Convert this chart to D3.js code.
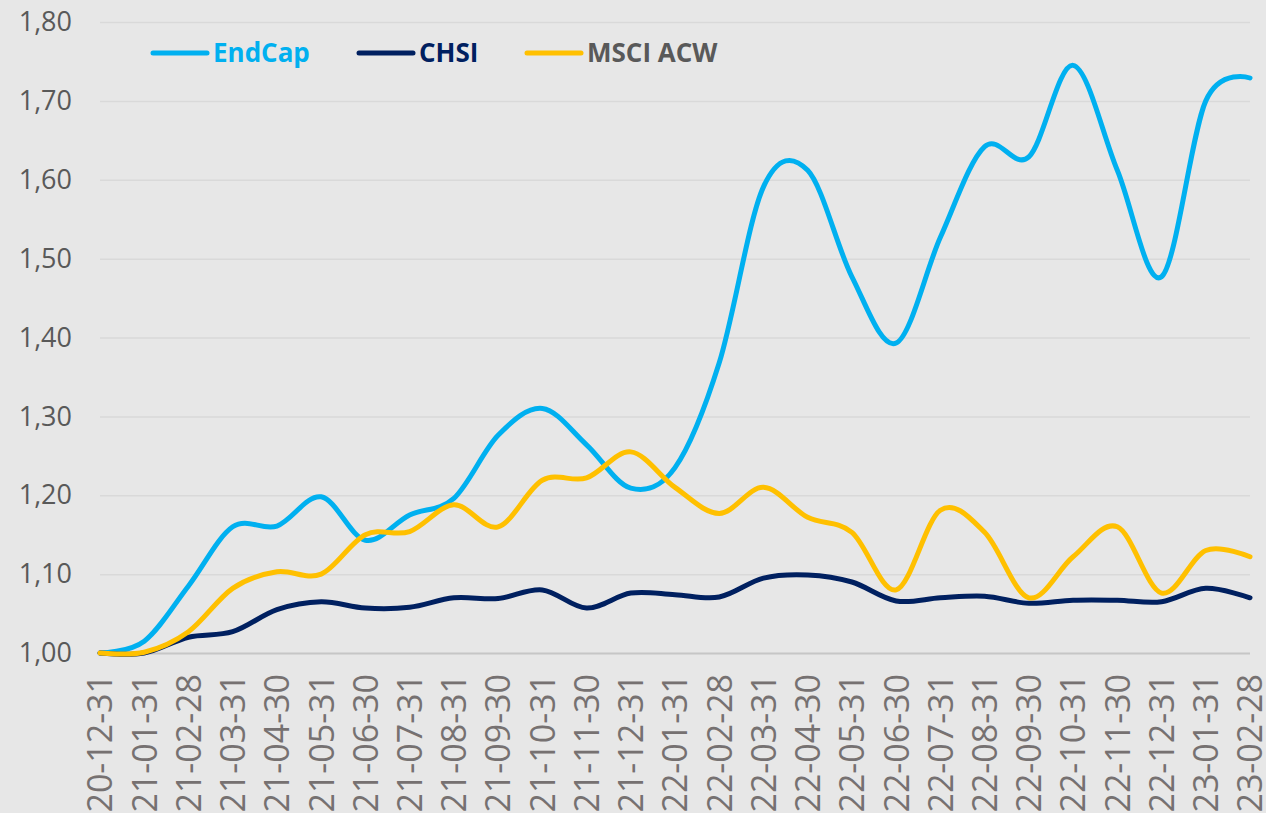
<!DOCTYPE html>
<html>
<head>
<meta charset="utf-8">
<script src="https://cdn.jsdelivr.net/npm/d3@7"></script>
<style>
  html, body { margin: 0; padding: 0; background: #e7e7e7; overflow: hidden; }
  text { font-family: "Open Sans", "Noto Sans", sans-serif; }
</style>
</head>
<body>
<div id="chart-area"></div>
<script>
const dates = [
  "20-12-31", "21-01-31", "21-02-28", "21-03-31", "21-04-30", "21-05-31",
  "21-06-30", "21-07-31", "21-08-31", "21-09-30", "21-10-31", "21-11-30",
  "21-12-31", "22-01-31", "22-02-28", "22-03-31", "22-04-30", "22-05-31",
  "22-06-30", "22-07-31", "22-08-31", "22-09-30", "22-10-31", "22-11-30",
  "22-12-31", "23-01-31", "23-02-28"
];
const endCap = [
  1.00, 1.015, 1.085, 1.16, 1.161, 1.198, 1.143, 1.175, 1.196, 1.276, 1.31, 1.264,
  1.209, 1.235, 1.368, 1.591, 1.612, 1.477, 1.393, 1.527, 1.642, 1.629, 1.745, 1.612,
  1.477, 1.70, 1.729
];
const chsi = [
  1.00, 1.00, 1.02, 1.027, 1.055, 1.065, 1.057, 1.058, 1.07, 1.069, 1.08, 1.057,
  1.076, 1.074, 1.071, 1.095, 1.099, 1.09, 1.066, 1.07, 1.072, 1.063, 1.067, 1.067,
  1.065, 1.082, 1.07
];
const msci = [
  1.00, 1.001, 1.027, 1.082, 1.103, 1.10, 1.15, 1.154, 1.188, 1.16, 1.219, 1.222,
  1.255, 1.21, 1.177, 1.21, 1.172, 1.153, 1.08, 1.181, 1.153, 1.07, 1.122, 1.16,
  1.076, 1.13, 1.122
];
const yTicks = [1.0, 1.1, 1.2, 1.3, 1.4, 1.5, 1.6, 1.7, 1.8];

const series = [
  { name: "EndCap", values: endCap, color: "#00b0f0", text: "#00b0f0" },
  { name: "CHSI", values: chsi, color: "#002060", text: "#002060" },
  { name: "MSCI ACW", values: msci, color: "#ffc000", text: "#595959" }
];

const W = 1266, H = 813;
const margin = { top: 22, right: 16, bottom: 160, left: 100 };

const svg = d3.select("#chart-area")
  .append("svg")
  .attr("width", W)
  .attr("height", H);

svg.append("rect").attr("width", W).attr("height", H).attr("fill", "#e7e7e7");

const xScale = d3.scalePoint().domain(dates).range([margin.left, W - margin.right]);
const yScale = d3.scaleLinear().domain([1.0, 1.8]).range([H - margin.bottom - 0, margin.top]);

// y gridlines + labels
const yAxis = d3.axisLeft(yScale)
  .tickValues(yTicks)
  .tickSize(-(W - margin.right - margin.left))
  .tickPadding(28)
  .tickFormat(d => d3.format(".2f")(d).replace(".", ","));

const yG = svg.append("g")
  .attr("transform", `translate(${margin.left},0)`)
  .call(yAxis);
yG.select(".domain").remove();
yG.selectAll(".tick line")
  .attr("stroke", d => d === 1.0 ? "#c6c6c6" : "#d9d9d9")
  .attr("stroke-width", d => d === 1.0 ? 2 : 1.5);
yG.selectAll(".tick text")
  .attr("fill", "#595959")
  .attr("font-size", "27px")
  .attr("font-family", "'Open Sans', sans-serif");

// x labels
const xAxis = d3.axisBottom(xScale).tickSize(0).tickPadding(0);
const xG = svg.append("g")
  .attr("transform", `translate(0,${yScale(1.0)})`)
  .call(xAxis);
xG.select(".domain").remove();
xG.selectAll(".tick text")
  .attr("fill", "#767171")
  .attr("font-size", "34px")
  .attr("font-family", "'Open Sans', sans-serif")
  .attr("text-anchor", "end")
  .attr("dy", "0.35em")
  .attr("transform", "translate(0,21) rotate(-90)")
  .attr("y", 0)
  .attr("x", 0);

// lines
const line = d3.line()
  .x((d, i) => xScale(dates[i]))
  .y(d => yScale(d))
  .curve(d3.curveCardinal.tension(0));

svg.selectAll(".series")
  .data(series)
  .enter()
  .append("path")
  .attr("class", "series")
  .attr("fill", "none")
  .attr("stroke", d => d.color)
  .attr("stroke-width", 5)
  .attr("stroke-linejoin", "round")
  .attr("stroke-linecap", "round")
  .attr("d", d => line(d.values));

// legend
const legendX = [153, 359, 527];
const legend = svg.selectAll(".legend")
  .data(series)
  .enter()
  .append("g")
  .attr("class", "legend")
  .attr("transform", (d, i) => `translate(${legendX[i]},53)`);

legend.append("line")
  .attr("x1", 0).attr("x2", 54)
  .attr("y1", 0).attr("y2", 0)
  .attr("stroke", d => d.color)
  .attr("stroke-width", 5)
  .attr("stroke-linecap", "round");

legend.append("text")
  .attr("x", 60)
  .attr("y", 0)
  .attr("dy", "0.36em")
  .attr("fill", d => d.text)
  .attr("font-size", "26px")
  .attr("font-weight", "bold")
  .attr("font-family", "'Open Sans', sans-serif")
  .text(d => d.name);
</script>
</body>
</html>
